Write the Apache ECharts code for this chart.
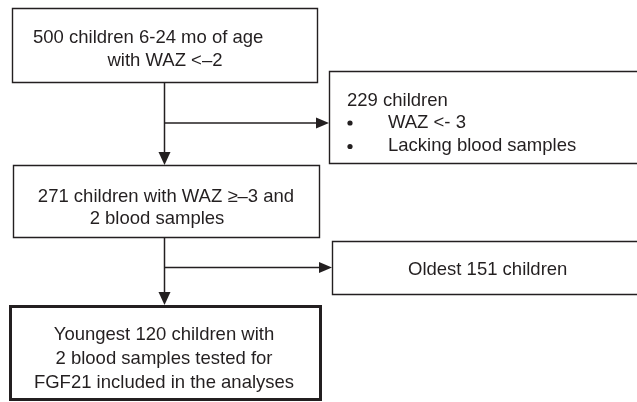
<!DOCTYPE html>
<html>
<head>
<meta charset="utf-8">
<script src="https://cdn.jsdelivr.net/npm/echarts@6/dist/echarts.min.js"></script>
<style>
  html, body { margin: 0; padding: 0; background: #fff; }
  #chart { width: 637px; height: 402px; }
</style>
</head>
<body>
<div id="chart"></div>
<script>
// flow chart texts
const topBox = ['500 children 6-24 mo of age', 'with WAZ <–2'];
const excludedFirst = ['229 children'];
const excludedReasons = ['WAZ <- 3', 'Lacking blood samples'];
const middleBox = ['271 children with WAZ ≥–3 and', '2 blood samples'];
const excludedSecond = ['Oldest 151 children'];
const finalBox = ['Youngest 120 children with', '2 blood samples tested for', 'FGF21 included in the analyses'];

const ink = '#231f20';
const font = '18.5px "Liberation Sans", Arial, sans-serif';

// layout (pixels)
const boxes = [
    { x: 12.5, y: 8.5, w: 305, h: 74, lw: 1.4 },
    { x: 329.5, y: 71.5, w: 320, h: 92, lw: 1.4 },
    { x: 13.5, y: 165.5, w: 306, h: 72, lw: 1.4 },
    { x: 332.5, y: 241.5, w: 320, h: 53, lw: 1.4 },
    { x: 10.5, y: 306.5, w: 310, h: 93, lw: 3 }
];

function textLines(lines, x, y0, step, align) {
    return lines.map(function (t, i) {
        return {
            type: 'text',
            style: {
                text: t, x: x, y: y0 + i * step,
                font: font, fill: ink,
                textAlign: align || 'left', textVerticalAlign: 'bottom'
            }
        };
    });
}

function arrowDown(x, y0, y1) {
    return [
        { type: 'line', shape: { x1: x, y1: y0, x2: x, y2: y1 - 12 }, style: { stroke: ink, lineWidth: 1.5 } },
        { type: 'polygon', shape: { points: [[x - 6, y1 - 13], [x + 6, y1 - 13], [x, y1]] }, style: { fill: ink } }
    ];
}

function arrowRight(x0, x1, y) {
    return [
        { type: 'line', shape: { x1: x0, y1: y, x2: x1 - 12, y2: y }, style: { stroke: ink, lineWidth: 1.5 } },
        { type: 'polygon', shape: { points: [[x1 - 13, y - 5.5], [x1 - 13, y + 5.5], [x1, y]] }, style: { fill: ink } }
    ];
}

let elements = [];
boxes.forEach(function (b) {
    elements.push({
        type: 'rect',
        shape: { x: b.x, y: b.y, width: b.w, height: b.h },
        style: { fill: '#fff', stroke: ink, lineWidth: b.lw }
    });
});

elements = elements
    .concat(arrowDown(164.5, 82, 165))
    .concat(arrowRight(164.5, 329, 123))
    .concat(arrowDown(164.5, 238, 305))
    .concat(arrowRight(164.5, 332, 267.5));

elements = elements
    .concat(textLines([topBox[0]], 33, 47, 0))
    .concat(textLines([topBox[1]], 165, 70.5, 0, 'center'))
    .concat(textLines(excludedFirst, 347, 110, 0))
    .concat(textLines(excludedReasons, 388, 132, 23.5))
    .concat(textLines([middleBox[0]], 166, 206, 0, 'center'))
    .concat(textLines([middleBox[1]], 157, 228, 0, 'center'))
    .concat(textLines(excludedSecond, 408, 279, 0))
    .concat(textLines(finalBox, 164, 344, 24, 'center'));

excludedReasons.forEach(function (r, i) {
    elements.push({ type: 'circle', shape: { cx: 350, cy: 123 + i * 23.5, r: 2.6 }, style: { fill: ink } });
});

const chart = echarts.init(document.getElementById('chart'));
chart.setOption({
    backgroundColor: '#fff',
    animation: false,
    graphic: { elements: elements }
});
</script>
</body>
</html>
